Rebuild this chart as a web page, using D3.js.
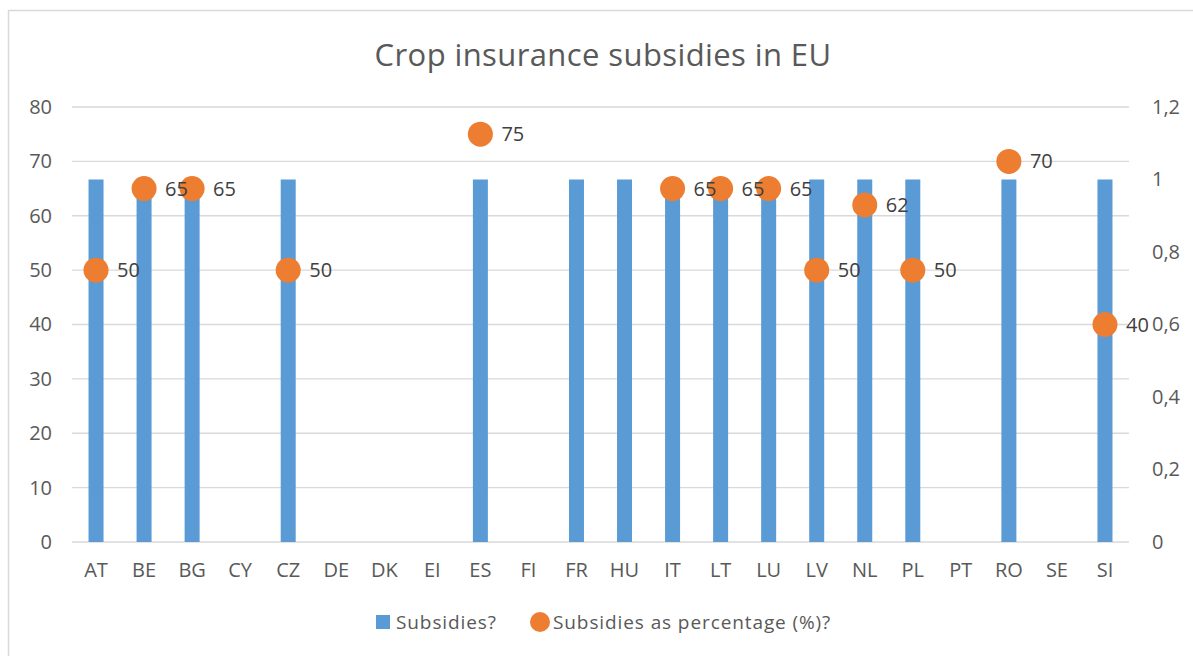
<!DOCTYPE html>
<html>
<head>
<meta charset="utf-8">
<script src="https://cdn.jsdelivr.net/npm/d3@7"></script>
<style>
  body { margin: 0; background: #fff; }
  text { font-family: "Open Sans", "Noto Sans", sans-serif; }
</style>
</head>
<body>
<svg id="chart" width="1193" height="656"></svg>
<script>
// data
const countries = ['AT','BE','BG','CY','CZ','DE','DK','EI','ES','FI','FR','HU','IT','LT','LU','LV','NL','PL','PT','RO','SE','SI'];
const subsidies = [1,1,1,0,1,0,0,0,1,0,1,1,1,1,1,1,1,1,0,1,0,1];
const percentage = [50,65,65,null,50,null,null,null,75,null,null,null,65,65,65,50,62,50,null,70,null,40];
const leftTicks = [0,10,20,30,40,50,60,70,80];
const rightTicks = [0,0.2,0.4,0.6,0.8,1,1.2];

const svg = d3.select('#chart');
const W = 1193, H = 656;
const margin = {left: 72, right: 64, top: 107, bottom: 114};

const blue = '#5b9bd5', orange = '#ed7d31';
const fs = 20;

// outer frame
svg.append('rect')
    .attr('x', 8.5).attr('y', 10.5)
    .attr('width', W + 10).attr('height', H + 10)
    .attr('fill', '#fff').attr('stroke', '#d9d9d9').attr('stroke-width', 1.5);

const x = d3.scaleBand()
    .domain(countries)
    .range([margin.left, W - margin.right]);

const yL = d3.scaleLinear().domain([0, 80]).range([H - margin.bottom, margin.top]);
const yR = d3.scaleLinear().domain([0, 1.2]).range([H - margin.bottom, margin.top]);

// gridlines
svg.append('g').selectAll('line')
    .data(leftTicks)
    .enter().append('line')
    .attr('x1', margin.left).attr('x2', W - margin.right)
    .attr('y1', d => yL(d)).attr('y2', d => yL(d))
    .attr('stroke', '#d9d9d9').attr('stroke-width', 1.3);

// left axis
const leftAxis = svg.append('g')
    .attr('transform', 'translate(' + margin.left + ',0)')
    .call(d3.axisLeft(yL).tickValues(leftTicks).tickSize(0).tickPadding(20));
leftAxis.select('.domain').remove();
leftAxis.selectAll('text').attr('font-size', fs).attr('fill', '#595959');

// right axis, comma decimals
const fmt = d => String(d).replace('.', ',');
const rightAxis = svg.append('g')
    .attr('transform', 'translate(' + (W - margin.right) + ',0)')
    .call(d3.axisRight(yR).tickValues(rightTicks).tickFormat(fmt).tickSize(0).tickPadding(23));
rightAxis.select('.domain').remove();
rightAxis.selectAll('text').attr('font-size', fs).attr('fill', '#595959');

// x axis labels
const xAxis = svg.append('g')
    .attr('transform', 'translate(0,' + (H - margin.bottom) + ')')
    .call(d3.axisBottom(x).tickSize(0).tickPadding(21));
xAxis.select('.domain').remove();
xAxis.selectAll('text').attr('font-size', fs).attr('fill', '#595959');

// bars
const barW = 15;
svg.append('g').selectAll('rect')
    .data(countries.map((c, i) => ({c: c, v: subsidies[i]})).filter(d => d.v > 0))
    .enter().append('rect')
    .attr('x', d => x(d.c) + x.bandwidth() / 2 - barW / 2)
    .attr('y', d => yR(d.v))
    .attr('width', barW)
    .attr('height', d => yR(0) - yR(d.v))
    .attr('fill', blue);

// dots
const pts = countries.map((c, i) => ({c: c, v: percentage[i]})).filter(d => d.v !== null);
svg.append('g').selectAll('circle')
    .data(pts)
    .enter().append('circle')
    .attr('cx', d => x(d.c) + x.bandwidth() / 2)
    .attr('cy', d => yL(d.v))
    .attr('r', 12.5)
    .attr('fill', orange);

svg.append('g').selectAll('text')
    .data(pts)
    .enter().append('text')
    .attr('x', d => x(d.c) + x.bandwidth() / 2 + 21)
    .attr('y', d => yL(d.v))
    .attr('dy', '0.35em')
    .attr('font-size', fs)
    .attr('fill', '#404040')
    .text(d => d.v);

// title
svg.append('text')
    .attr('x', 603).attr('y', 55)
    .attr('dy', '0.35em')
    .attr('text-anchor', 'middle')
    .attr('font-size', 31)
    .attr('letter-spacing', 0.4)
    .attr('fill', '#595959')
    .text('Crop insurance subsidies in EU');

// legend
const lg = svg.append('g').attr('transform', 'translate(0,622)');
lg.append('rect').attr('x', 376).attr('y', -7).attr('width', 14).attr('height', 14).attr('fill', blue);
lg.append('text').attr('x', 396).attr('y', 0).attr('dy', '0.35em')
    .attr('font-size', 19).attr('letter-spacing', 0.9).attr('fill', '#595959').text('Subsidies?');
lg.append('circle').attr('cx', 540).attr('cy', 0).attr('r', 10).attr('fill', orange);
lg.append('text').attr('x', 553).attr('y', 0).attr('dy', '0.35em')
    .attr('font-size', 19).attr('letter-spacing', 0.9).attr('fill', '#595959').text('Subsidies as percentage (%)?');
</script>
</body>
</html>
